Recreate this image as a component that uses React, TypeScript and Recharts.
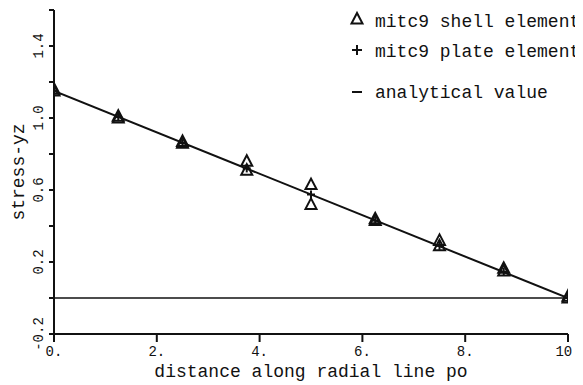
import React from 'react';
import { ComposedChart, Line, Scatter, XAxis, YAxis, ReferenceLine, Legend } from 'recharts';

// ---- data ----
const positions = [0, 1.25, 2.5, 3.75, 5, 6.25, 7.5, 8.75, 10];
const shellUpper = [1.16, 1.01, 0.87, 0.76, 0.63, 0.44, 0.32, 0.165, 0.01];
const shellLower = [1.15, 1.0, 0.86, 0.71, 0.52, 0.43, 0.29, 0.15, 0.0];
const plateValues = [1.15, 1.005, 0.86, 0.72, 0.575, 0.43, 0.29, 0.145, 0.0];
const analyticalX = [0, 10];
const analyticalY = [1.15, 0];
const xTicks = [0, 2, 4, 6, 8, 10];
const yTicks = [-0.2, 0, 0.2, 0.4, 0.6, 0.8, 1.0, 1.2, 1.4, 1.6];
const yLabelled = [-0.2, 0.2, 0.6, 1.0, 1.4];
const legendLabels = ['mitc9 shell element', 'mitc9 plate element', 'analytical value'];
const xTitle = 'distance along radial line po';
const yTitle = 'stress-yz';

const shellData = [
  ...positions.map((x, i) => ({ x, y: shellUpper[i] })),
  ...positions.map((x, i) => ({ x, y: shellLower[i] })),
];
const plateData = positions.map((x, i) => ({ x, y: plateValues[i] }));
const analyticalData = analyticalX.map((x, i) => ({ x, y: analyticalY[i] }));

const FONT = "'Liberation Mono', 'Courier New', monospace";
const INK = '#111';

const Triangle = (props: any) => {
  const { cx, cy } = props;
  if (cx == null || cy == null) return null;
  return (
    <polygon
      points={`${cx},${cy - 6} ${cx - 5.5},${cy + 4.5} ${cx + 5.5},${cy + 4.5}`}
      fill="none"
      stroke={INK}
      strokeWidth={2}
    />
  );
};

const Plus = (props: any) => {
  const { cx, cy } = props;
  if (cx == null || cy == null) return null;
  return (
    <g stroke={INK} strokeWidth={2}>
      <line x1={cx - 4} y1={cy} x2={cx + 4} y2={cy} />
      <line x1={cx} y1={cy - 4} x2={cx} y2={cy + 4} />
    </g>
  );
};

const YTick = (props: any) => {
  const { y, payload } = props;
  const v = payload.value;
  if (!yLabelled.some((l) => Math.abs(l - v) < 1e-6)) return null;
  const cx = 31;
  return (
    <text
      x={cx}
      y={y}
      transform={`rotate(-90 ${cx} ${y})`}
      textAnchor="middle"
      dominantBaseline="central"
      fontFamily={FONT}
      fontSize={14}
      fill={INK}
    >
      {v.toFixed(1)}
    </text>
  );
};

const XTick = (props: any) => {
  const { x, payload } = props;
  return (
    <text
      x={x}
      y={344}
      textAnchor="middle"
      dominantBaseline="central"
      fontFamily={FONT}
      fontSize={14}
      fill={INK}
    >
      {`${payload.value}.`}
    </text>
  );
};

const YTitle = (props: any) => {
  const vb = props.viewBox || { y: 2, height: 324 };
  const cx = 11;
  const cy = vb.y + vb.height / 2;
  return (
    <text
      x={cx}
      y={cy}
      transform={`rotate(-90 ${cx} ${cy})`}
      textAnchor="middle"
      dominantBaseline="central"
      fontFamily={FONT}
      fontSize={18}
      fill={INK}
    >
      {yTitle}
    </text>
  );
};

const XTitle = (props: any) => {
  const vb = props.viewBox || { x: 46, width: 514, y: 326 };
  return (
    <text
      x={vb.x + vb.width / 2}
      y={vb.y + 38}
      textAnchor="middle"
      dominantBaseline="central"
      fontFamily={FONT}
      fontSize={18}
      fill={INK}
    >
      {xTitle}
    </text>
  );
};

const LegendContent = () => (
  <svg width={245} height={110} style={{ overflow: 'visible' }}>
    <polygon points="17,5 11.5,15.5 22.5,15.5" fill="none" stroke={INK} strokeWidth={2} />
    <g stroke={INK} strokeWidth={2}>
      <line x1={12} y1={42} x2={22} y2={42} />
      <line x1={17} y1={37} x2={17} y2={47} />
      <line x1={12} y1={84} x2={22} y2={84} />
    </g>
    {legendLabels.map((t, i) => (
      <text
        key={t}
        x={35}
        y={[19, 49, 90][i]}
        fontFamily={FONT}
        fontSize={18}
        fill={INK}
      >
        {t}
      </text>
    ))}
  </svg>
);

export default function App() {
  return (
    <div style={{ width: 575, height: 377, background: '#fff' }}>
      <ComposedChart
        width={575}
        height={377}
        margin={{ top: 2, right: 15, bottom: 0, left: 0 }}
      >
        <XAxis
          type="number"
          dataKey="x"
          domain={[0, 10]}
          ticks={xTicks}
          height={51}
          axisLine={{ stroke: INK, strokeWidth: 2 }}
          tickLine={{ stroke: INK, strokeWidth: 2 }}
          tickSize={8}
          tick={<XTick />}
          interval={0}
          allowDataOverflow
          label={<XTitle />}
        />
        <YAxis
          type="number"
          dataKey="y"
          domain={[-0.2, 1.6]}
          ticks={yTicks}
          width={46}
          axisLine={{ stroke: INK, strokeWidth: 2 }}
          tickLine={{ stroke: INK, strokeWidth: 2 }}
          tickSize={5}
          tick={<YTick />}
          interval={0}
          allowDataOverflow
          label={<YTitle />}
        />
        <ReferenceLine y={0} stroke={INK} strokeWidth={1.6} />
        <Line
          data={analyticalData}
          dataKey="y"
          type="linear"
          stroke={INK}
          strokeWidth={2}
          dot={false}
          isAnimationActive={false}
        />
        <Scatter data={plateData} dataKey="y" shape={<Plus />} isAnimationActive={false} />
        <Scatter data={shellData} dataKey="y" shape={<Triangle />} isAnimationActive={false} />
        <Legend
          layout="vertical"
          align="center"
          verticalAlign="middle"
          content={<LegendContent />}
          wrapperStyle={{ top: 0, left: 332, width: 245, height: 110 }}
        />
      </ComposedChart>
    </div>
  );
}
